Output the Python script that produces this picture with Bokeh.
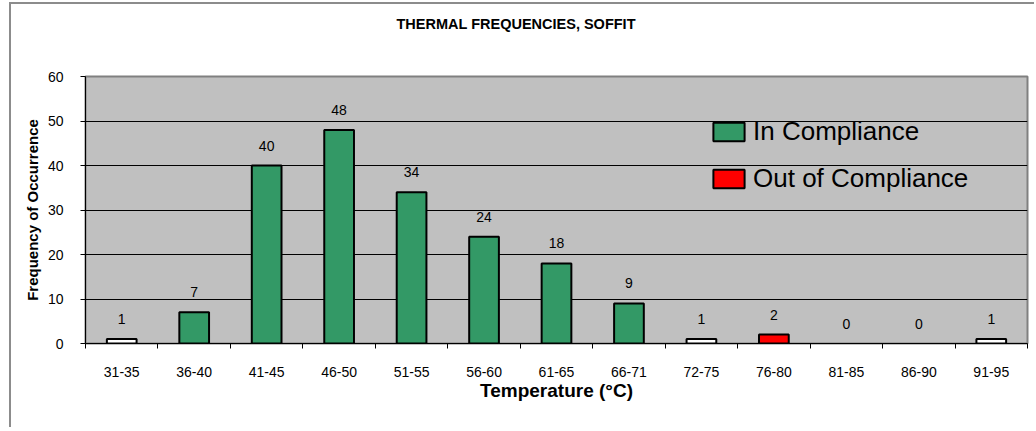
from bokeh.plotting import figure
from bokeh.models import (ColumnDataSource, Range1d, FixedTicker, CustomJSTickFormatter,
                          Legend, LegendItem, Title)
from bokeh.core.properties import value
from bokeh.embed import file_html
from bokeh.resources import INLINE

categories = ["31-35", "36-40", "41-45", "46-50", "51-55", "56-60", "61-65",
              "66-71", "72-75", "76-80", "81-85", "86-90", "91-95"]
in_compliance = [0, 7, 40, 48, 34, 24, 18, 9, 0, 0, 0, 0, 0]
out_of_compliance = [0, 0, 0, 0, 0, 0, 0, 0, 0, 2, 0, 0, 0]
unclassified = [1, 0, 0, 0, 0, 0, 0, 0, 1, 0, 0, 0, 1]
y_ticks = [0, 10, 20, 30, 40, 50, 60]

FONT = "Liberation Sans"


def series_source(vals):
    xs = [i + 0.5 for i, v in enumerate(vals) if v > 0]
    ys = [v for v in vals if v > 0]
    return ColumnDataSource(dict(x=xs, top=ys))


totals = [a + b + c for a, b, c in zip(in_compliance, out_of_compliance, unclassified)]
label_src = ColumnDataSource(dict(x=[i + 0.5 for i in range(len(categories))],
                                  y=totals, t=[str(v) for v in totals]))

p = figure(width=1025, height=425, output_backend="svg", toolbar_location=None,
           x_range=Range1d(0, len(categories)), y_range=Range1d(0, 60),
           min_border_left=74, min_border_right=9, min_border_top=72, min_border_bottom=86,
           background_fill_color="#C0C0C0", border_fill_color="white")
p.styles = {"margin-left": "9px", "margin-top": "2px",
            "border-left": "2px solid #8C8C8C", "border-top": "2px solid #8C8C8C"}
p.outline_line_color = "#808080"
p.outline_line_width = 2

# trailing blank lines lift the single visible title line towards the top
p.title = Title(text="THERMAL FREQUENCIES, SOFFIT\n\n", align="left", offset=311,
                vertical_align="top", standoff=21, text_font=FONT, text_font_size="14.5px",
                text_font_style="bold", text_color="black")

w = 0.41
r_in = p.vbar(x="x", top="top", width=w, source=series_source(in_compliance),
              fill_color="#339966", line_color="black", line_width=2)
r_out = p.vbar(x="x", top="top", width=w, source=series_source(out_of_compliance),
               fill_color="#FF0000", line_color="black", line_width=2)
p.vbar(x="x", top="top", width=w, source=series_source(unclassified),
       fill_color="white", line_color="black", line_width=2)

p.text(x="x", y="y", text="t", source=label_src, text_align="center",
       text_baseline="middle", y_offset=-20, text_font=value(FONT),
       text_font_size="14px", text_color="black")

# grid
p.xgrid.visible = False
p.ygrid.ticker = FixedTicker(ticks=y_ticks)
p.ygrid.grid_line_color = "black"
p.ygrid.grid_line_width = 1

# y axis
p.yaxis.ticker = FixedTicker(ticks=y_ticks)
p.yaxis.axis_label = "Frequency of Occurrence"
p.yaxis.axis_label_text_font = FONT
p.yaxis.axis_label_text_font_size = "15px"
p.yaxis.axis_label_text_font_style = "bold"
p.yaxis.axis_label_text_color = "black"
p.yaxis.axis_label_standoff = 4
p.yaxis.major_label_text_font = FONT
p.yaxis.major_label_text_font_size = "14px"
p.yaxis.major_label_text_color = "black"
p.yaxis.major_label_standoff = 17
p.yaxis.major_tick_out = 5
p.yaxis.major_tick_in = 0
p.yaxis.minor_tick_out = 0
p.yaxis.minor_tick_in = 0
p.yaxis.axis_line_color = "black"
p.yaxis.major_tick_line_color = "black"

# x axis
p.xaxis.ticker = FixedTicker(ticks=[i + 0.5 for i in range(len(categories))],
                             minor_ticks=list(range(len(categories) + 1)))
p.xaxis.formatter = CustomJSTickFormatter(args=dict(labels=categories),
                                          code="return labels[Math.floor(tick)] || '';")
p.xaxis.axis_label = "Temperature (°C)"
p.xaxis.axis_label_text_font = FONT
p.xaxis.axis_label_text_font_size = "19px"
p.xaxis.axis_label_text_font_style = "bold"
p.xaxis.axis_label_text_color = "black"
p.xaxis.axis_label_standoff = 0
p.xaxis.major_label_text_font = FONT
p.xaxis.major_label_text_font_size = "14px"
p.xaxis.major_label_text_color = "black"
p.xaxis.major_label_standoff = 18
p.xaxis.major_tick_out = 0
p.xaxis.major_tick_in = 0
p.xaxis.minor_tick_out = 5
p.xaxis.minor_tick_in = 0
p.xaxis.minor_tick_line_color = "black"
p.xaxis.axis_line_color = "black"

legend = Legend(items=[LegendItem(label="In Compliance", renderers=[r_in]),
                       LegendItem(label="Out of Compliance", renderers=[r_out])],
                location=(624, 149), orientation="vertical",
                background_fill_alpha=0, border_line_alpha=0,
                padding=0, margin=0, spacing=16,
                glyph_width=39, glyph_height=23, label_height=30, label_standoff=5,
                label_text_font=FONT, label_text_font_size="26px",
                label_text_color="black")
p.add_layout(legend)

open("out.html", "w").write(file_html(p, INLINE))
